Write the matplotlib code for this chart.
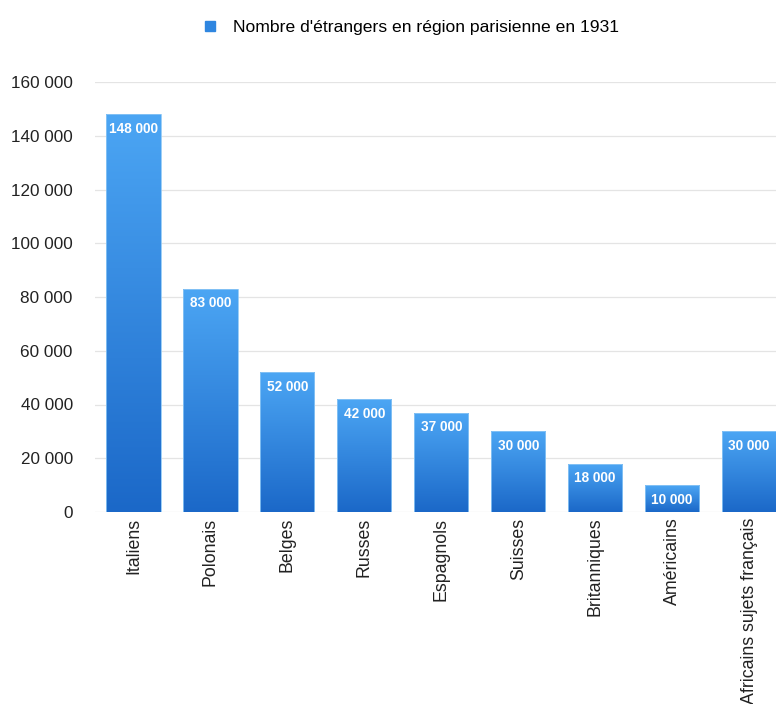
import numpy as np
import matplotlib
matplotlib.use("Agg")
from matplotlib import pyplot as plt
from matplotlib.colors import LinearSegmentedColormap
from matplotlib.lines import Line2D

plt.rcParams['font.family'] = ['Liberation Sans', 'DejaVu Sans']

categories = ['Italiens', 'Polonais', 'Belges', 'Russes', 'Espagnols', 'Suisses',
              'Britanniques', 'Américains', 'Africains sujets français']
values = [148000, 83000, 52000, 42000, 37000, 30000, 18000, 10000, 30000]
labels = ['148 000', '83 000', '52 000', '42 000', '37 000', '30 000',
          '18 000', '10 000', '30 000']
yticks = [0, 20000, 40000, 60000, 80000, 100000, 120000, 140000, 160000]
ytick_labels = ['0', '20 000', '40 000', '60 000', '80 000', '100 000',
                '120 000', '140 000', '160 000']
legend_text = "Nombre d'étrangers en région parisienne en 1931"

fig = plt.figure(figsize=(7.76, 7.04), dpi=100)
ax = fig.add_axes([95 / 776, 192 / 704, 681 / 776, 430 / 704])

cmap = LinearSegmentedColormap.from_list('bar', ['#1b68c8', '#4ca6f4'])
grad = np.linspace(0, 1, 256).reshape(-1, 1)

bars = ax.bar(range(len(values)), values, width=0.705, color='none',
              edgecolor='#8cc6f5', linewidth=0.6, zorder=4)
for b, lab in zip(bars, labels):
    x0, h, w = b.get_x(), b.get_height(), b.get_width()
    im = ax.imshow(grad, cmap=cmap, origin='lower', aspect='auto',
                   extent=[x0, x0 + w, 0, h], zorder=3)
    im.set_clip_path(b)
    # value printed inside the top of each bar
    ax.text(x0 + w / 2, h - 2800, lab, ha='center', va='top', color='white',
            fontsize=9.8, fontweight='bold', zorder=5)

ax.set_xlim(-0.5, 8.35)
ax.set_ylim(0, 160000)
ax.set_yticks(yticks)
ax.set_yticklabels(ytick_labels, fontsize=12.3, color='#222222')
ax.set_xticks(range(len(categories)))
ax.set_xticklabels(categories, rotation=90, fontsize=12.8, color='#222222')
ax.tick_params(length=0)
ax.tick_params(axis='y', pad=16)
ax.tick_params(axis='x', pad=4)
ax.grid(axis='y', color='#e4e4e4', linewidth=0.9, zorder=0)
for s in ax.spines.values():
    s.set_visible(False)

handle = Line2D([], [], marker='s', linestyle='none', markersize=7.5,
                markerfacecolor='#2f86e0', markeredgecolor='#2f86e0')
fig.legend([handle], [legend_text], loc='center', bbox_to_anchor=(406 / 776, 1 - 27 / 704),
           frameon=False, fontsize=12.6, handletextpad=0.3)

fig.savefig('out.png', dpi=100)
